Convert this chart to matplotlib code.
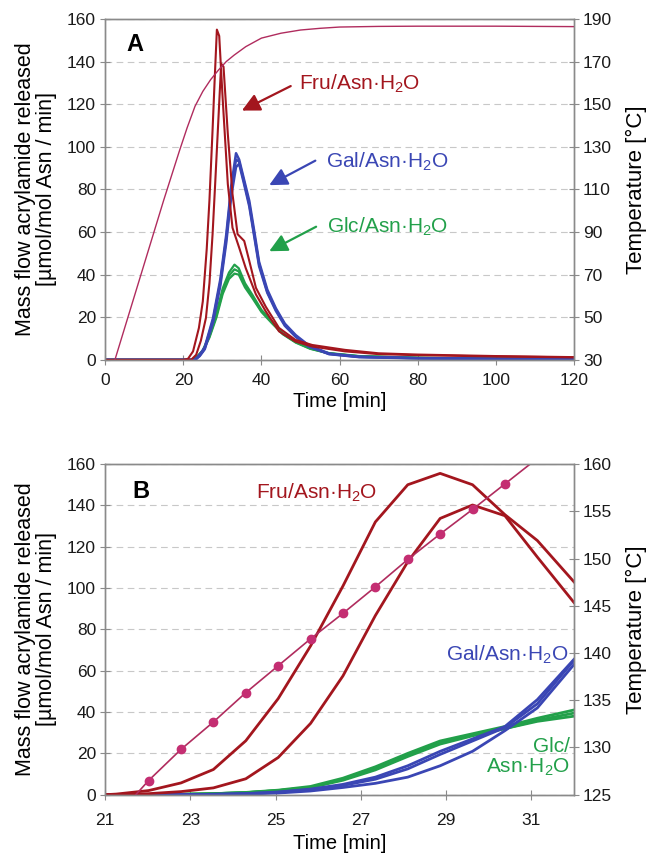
import matplotlib
matplotlib.use("Agg")
import matplotlib.pyplot as plt
import numpy as np

plt.rcParams['font.family'] = ['Liberation Sans', 'DejaVu Sans']
plt.rcParams['mathtext.fontset'] = 'custom'
plt.rcParams['mathtext.rm'] = 'Liberation Sans'
plt.rcParams['mathtext.default'] = 'regular'

# ---------------- Panel A data ----------------
tA_temp = [2.5, 5, 10, 15, 19, 21, 23, 25, 27, 29, 31, 33, 36, 40, 45, 50, 55, 60, 70, 80, 100, 120]
tempA = [30, 45, 75, 105, 128, 139, 149, 156, 161.5, 166, 170, 173, 177, 181, 183.3, 184.8, 185.6, 186.2, 186.5, 186.6, 186.6, 186.4]

tA_fru1 = [0, 20, 21.2, 22.5, 24, 25, 26, 26.7, 27.5, 28, 28.6, 29.2, 30.1, 31.4, 32.6, 34.3, 36, 38.6, 41.1, 44.5, 48.7, 53, 61.4, 70, 80, 100, 120]
fruA1 = [0, 0, 0.5, 4, 15, 27.5, 52, 75, 108, 130, 155, 152, 122, 82.5, 62, 52.7, 43, 30.7, 22.8, 13.4, 8.6, 6.3, 4, 2.7, 2.2, 1.6, 1.2]
tA_fru2 = [0, 22, 23.3, 24.5, 25.8, 26.7, 27.5, 28.2, 28.8, 29.7, 30.3, 31.4, 32.6, 33.9, 35.6, 36.9, 38.6, 41.1, 44.5, 48.7, 53, 61.4, 70, 80, 100, 120]
fruA2 = [0, 0, 2.4, 9, 19.7, 36, 59, 84, 106, 139, 137.6, 106, 77.8, 59, 55.8, 46.4, 33.8, 25, 15, 9.4, 7, 4.7, 3.1, 2.5, 1.8, 1.3]

tA_gal = [0, 23, 24.2, 25.5, 27.6, 29.5, 31, 32.3, 33.5, 34.3, 35.5, 36.9, 38.2, 39.4, 41.5, 43.7, 46, 48.8, 52, 57.3, 65, 80, 100, 120]
galA1 = [0, 0, 2.4, 6, 19.5, 38, 58.8, 82, 97, 94, 85, 74.6, 60, 46, 33, 24.2, 17, 11.6, 7, 3, 1.5, 0.8, 0.5, 0.3]
galA2 = [0, 0, 2, 5.5, 18.5, 36.5, 57, 80, 94, 93, 84, 73, 58.5, 45, 32, 23.5, 16.5, 11, 6.5, 2.8, 1.4, 0.8, 0.5, 0.3]
galA3 = [0, 0, 1.8, 5, 17.5, 35, 55, 77, 90.5, 92, 83, 72, 57.5, 44, 31.5, 23, 16, 10.8, 6.4, 2.7, 1.3, 0.7, 0.4, 0.3]

tA_glc = [0, 22, 23.5, 25, 26.7, 28.5, 30.1, 31.7, 33.1, 34.2, 35.8, 37.7, 40, 42.8, 45.5, 48.8, 52.5, 57.3, 65, 80, 100, 120]
glcA1 = [0, 0, 1.5, 4.5, 11.6, 22, 33.6, 41, 44.7, 43, 36, 30.5, 23.5, 17.9, 12.5, 8.5, 5.5, 3.2, 1.8, 1.0, 0.6, 0.4]
glcA2 = [0, 0, 1.4, 4.2, 11, 21, 32, 39.5, 42.5, 41.5, 35, 29.5, 23, 17.5, 12.2, 8.3, 5.3, 3.1, 1.7, 1.0, 0.6, 0.4]
glcA3 = [0, 0, 1.2, 4.0, 10.5, 20, 31, 38, 40.5, 40, 34, 29, 22.5, 17, 12, 8.1, 5.2, 3.0, 1.7, 0.9, 0.5, 0.4]

# ---------------- Panel B data ----------------
tB = [21.0, 21.26, 22.02, 22.78, 23.54, 24.30, 25.06, 25.82, 26.58, 27.34, 28.10, 28.86, 29.62, 30.38, 31.14, 32.0]
fruB1 = [0, 0.3, 2, 5.7, 12.2, 26.1, 46.5, 72, 101, 132, 150, 155.5, 150, 135.5, 123, 103]
fruB2 = [0, 0, 0.5, 1.5, 3.3, 7.7, 18, 34.5, 57.5, 86.7, 112.7, 133.7, 140.2, 135, 115, 93]
galB1 = [0, 0, 0, 0, 0.1, 0.3, 0.8, 1.8, 3.5, 5.5, 8.5, 14, 21, 31, 42, 63]
galB2 = [0, 0, 0, 0, 0.2, 0.5, 1.2, 2.5, 4.5, 7.5, 12.5, 19.5, 26, 32.5, 44, 65]
galB3 = [0, 0, 0, 0, 0.2, 0.5, 1.3, 2.7, 5, 8.5, 14, 21, 27, 33, 46, 65.5]
glcB1 = [0, 0, 0, 0.2, 0.5, 1, 2, 3.5, 7.5, 13, 19.5, 25.5, 29, 32, 35.5, 38]
glcB2 = [0, 0, 0, 0.2, 0.5, 1, 2, 3.5, 7, 12, 18.5, 24.5, 28.5, 32, 36, 39.5]
glcB3 = [0, 0, 0, 0.2, 0.5, 1.1, 2.2, 4, 8, 13.5, 20, 26, 29.5, 33, 37, 41]
tB_temp = [21.26, 22.02, 22.78, 23.54, 24.30, 25.06, 25.82, 26.58, 27.34, 28.10, 28.86, 29.62, 30.38, 31.14]
tempB = [122.7, 126.5, 129.8, 132.7, 135.8, 138.65, 141.5, 144.2, 147.0, 149.9, 152.6, 155.2, 157.9, 160.6]

xticksA = [0, 20, 40, 60, 80, 100, 120]
yticks = [0, 20, 40, 60, 80, 100, 120, 140, 160]
rticksA = [30, 50, 70, 90, 110, 130, 150, 170, 190]
xticksB = [21, 23, 25, 27, 29, 31]
rticksB = [125, 130, 135, 140, 145, 150, 155, 160]

RED = '#a3161e'
BLUE = '#3a46b4'
GREEN = '#22a04a'
TEMP = '#b02c5e'
MARK = '#c42e72'
SPINE = '#8a8a8a'
GRID = '#c8c8c8'

fig = plt.figure(figsize=(6.53, 8.61), dpi=100)
axA = fig.add_axes([0.161, 0.582, 0.718, 0.396])
axB = fig.add_axes([0.161, 0.077, 0.718, 0.384])

ylabel = 'Mass flow acrylamide released\n[µmol/mol Asn / min]'


def style(ax, ax2, xpad, xlabelpad):
    for a in (ax, ax2):
        for s in a.spines.values():
            s.set_color(SPINE)
            s.set_linewidth(1.0)
        a.tick_params(direction='inout', length=7, width=0.8, color=SPINE,
                      labelsize=12.5, labelcolor='#1a1a1a', pad=3)
    ax.tick_params(axis='x', pad=xpad)
    ax.yaxis.grid(True, linestyle=(0, (6, 4)), color=GRID, linewidth=0.8)
    ax.set_axisbelow(True)
    ax.set_ylabel(ylabel, fontsize=15.5, labelpad=7, linespacing=1.0)
    ax2.set_ylabel('Temperature [°C]', fontsize=16, labelpad=10)
    ax.set_xlabel('Time [min]', fontsize=14.5, labelpad=xlabelpad)


# ---- Panel A ----
axA2 = axA.twinx()
for v in (glcA1, glcA2, glcA3):
    axA.plot(tA_glc, v, color=GREEN, lw=1.6)
for v in (galA1, galA2, galA3):
    axA.plot(tA_gal, v, color=BLUE, lw=1.8)
axA.plot(tA_fru1, fruA1, color=RED, lw=1.5)
axA.plot(tA_fru2, fruA2, color=RED, lw=1.5)
axA2.plot(tA_temp, tempA, color=TEMP, lw=1.0)
axA.set_xlim(0, 120)
axA.set_ylim(0, 160)
axA2.set_ylim(30, 190)
axA.set_xticks(xticksA)
axA.set_yticks(yticks)
axA2.set_yticks(rticksA)
style(axA, axA2, 6, 3)
axA.text(7.6, 148, 'A', fontsize=17, fontweight='bold', va='center', ha='center')

ann = [('Fru/Asn·H$_2$O', RED, (49.6, 129.5), (35.0, 117.0), (47.5, 128.5)),
       ('Gal/Asn·H$_2$O', BLUE, (56.6, 93.0), (42.0, 82.0), (53.8, 93.5)),
       ('Glc/Asn·H$_2$O', GREEN, (56.9, 62.5), (42.0, 51.0), (54.0, 62.5))]
for txt, c, tpos, head, tail in ann:
    axA.text(tpos[0], tpos[1], txt, color=c, fontsize=15, va='center', ha='left')
    axA.annotate('', xy=head, xytext=tail,
                 arrowprops=dict(arrowstyle='-|>,head_length=0.9,head_width=0.45',
                                 color=c, lw=1.6, mutation_scale=12, shrinkA=0, shrinkB=0))

# ---- Panel B ----
axB2 = axB.twinx()
for v in (glcB1, glcB2, glcB3):
    axB.plot(tB, v, color=GREEN, lw=2.0)
for v in (galB1, galB2, galB3):
    axB.plot(tB, v, color=BLUE, lw=2.0)
axB.plot(tB, fruB1, color=RED, lw=2.0)
axB.plot(tB, fruB2, color=RED, lw=2.0)
axB2.plot(tB_temp, tempB, color=TEMP, lw=1.2, marker='o', markersize=6,
          markerfacecolor=MARK, markeredgecolor=MARK)
axB.set_xlim(21, 32)
axB.set_ylim(0, 160)
axB2.set_ylim(125, 160)
axB.set_xticks(xticksB)
axB.set_yticks(yticks)
axB2.set_yticks(rticksB)
style(axB, axB2, 10, 4)
axB.text(21.85, 146.5, 'B', fontsize=17, fontweight='bold', va='center', ha='center')
axB.text(24.55, 146, 'Fru/Asn·H$_2$O', color=RED, fontsize=15, va='center', ha='left')
axB.text(31.88, 67.5, 'Gal/Asn·H$_2$O', color=BLUE, fontsize=15, va='center', ha='right')
axB.text(31.9, 18, 'Glc/\nAsn·H$_2$O', color=GREEN, fontsize=15, va='center', ha='right',
         multialignment='right', linespacing=1.1)

fig.savefig('out.png', dpi=100)
